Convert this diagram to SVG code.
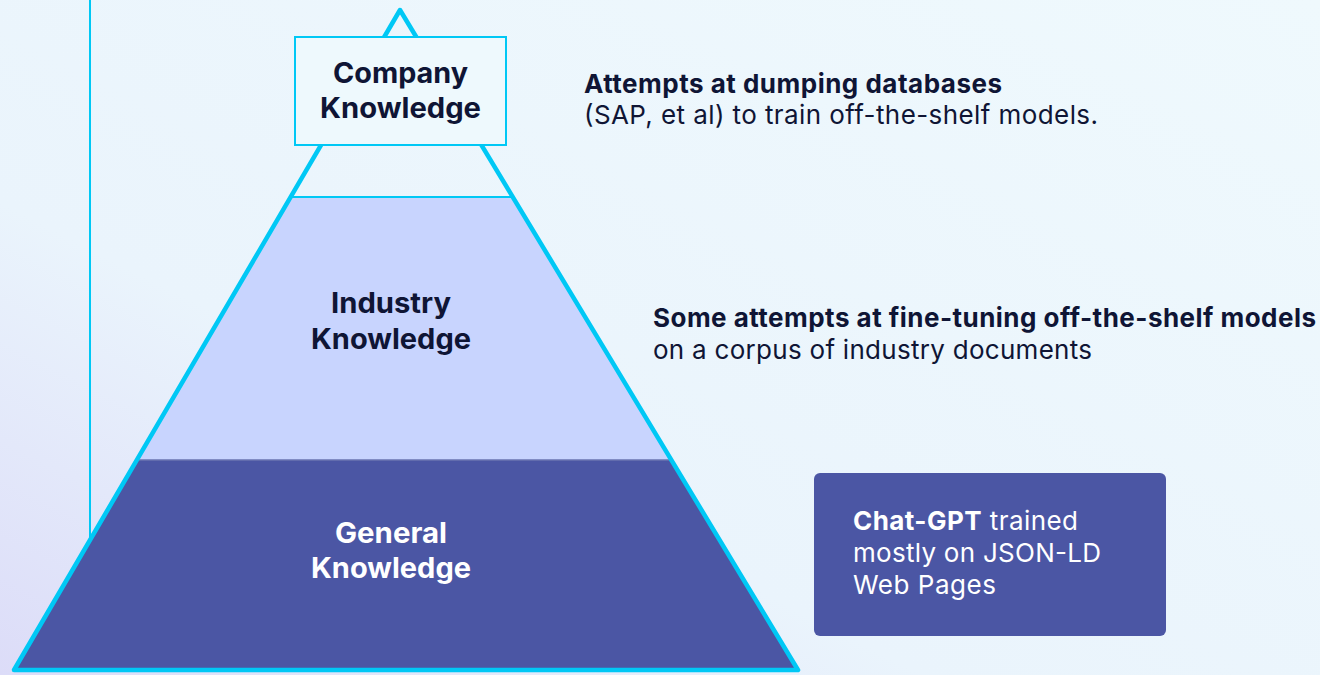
<svg xmlns="http://www.w3.org/2000/svg" width="1320" height="675" viewBox="0 0 1320 675">
<defs>
<linearGradient id="bg" x1="0" y1="1" x2="1" y2="0">
<stop offset="0" stop-color="#dcdcf8"/>
<stop offset="0.35" stop-color="#eaf4fc"/>
<stop offset="1" stop-color="#eff9fd"/>
</linearGradient>
<style>
.edge{fill:none;stroke:#00c8f5;stroke-width:4.5;stroke-linejoin:round}
.lbl{font-family:Inter,"Noto Sans",sans-serif;font-weight:700;font-size:28px}
.dark{fill:#0f1535}
.note{font-family:Inter,"Noto Sans",sans-serif;font-size:26px;fill:#0f1535}
.w{fill:#ffffff}
.b{font-weight:700}
</style>
</defs>
<rect width="1320" height="675" fill="url(#bg)"/>
<g id="connectors">
<line x1="90" y1="0" x2="90" y2="538" stroke="#00c8f5" stroke-width="2"/>
</g>
<g id="general-knowledge">
<polygon points="137,460 671,460 798,670 14,670" fill="#4b56a4"/>
<text class="lbl w" x="335" y="543" textLength="112" lengthAdjust="spacingAndGlyphs">General</text>
<text class="lbl w" x="311" y="578" textLength="160" lengthAdjust="spacingAndGlyphs">Knowledge</text>
</g>
<g id="industry-knowledge">
<polygon points="291,197 513,197 671,460 137,460" fill="#c8d4fe"/>
<line x1="137" y1="460" x2="671" y2="460" stroke="#6a74b0" stroke-width="1.5"/>
<line x1="291" y1="197" x2="513" y2="197" stroke="#00c8f5" stroke-width="2"/>
<text class="lbl dark" x="331" y="313" textLength="120" lengthAdjust="spacingAndGlyphs">Industry</text>
<text class="lbl dark" x="311" y="349" textLength="160" lengthAdjust="spacingAndGlyphs">Knowledge</text>
</g>
<polygon class="edge" points="400,10 798,670 14,670"/>
<g id="company-knowledge">
<rect x="295" y="37" width="211" height="108" fill="#eef9fd" stroke="#00c8f5" stroke-width="2"/>
<text class="lbl dark" x="333" y="83" textLength="135" lengthAdjust="spacingAndGlyphs">Company</text>
<text class="lbl dark" x="320" y="118" textLength="161" lengthAdjust="spacingAndGlyphs">Knowledge</text>
</g>
<g id="note-company">
<text class="note b" x="584" y="93" textLength="418">Attempts at dumping databases</text>
<text class="note" x="584" y="124" textLength="514">(SAP, et al) to train off-the-shelf models.</text>
</g>
<g id="note-industry">
<text class="note b" x="653" y="327" textLength="663">Some attempts at fine-tuning off-the-shelf models</text>
<text class="note" x="653" y="359" textLength="439">on a corpus of industry documents</text>
</g>
<g id="note-general">
<rect x="814" y="473" width="352" height="163" rx="6" fill="#4b56a4"/>
<text class="note w" x="853" y="530" textLength="225"><tspan class="b">Chat-GPT</tspan> trained</text>
<text class="note w" x="853" y="562" textLength="248">mostly on JSON-LD</text>
<text class="note w" x="853" y="594" textLength="143">Web Pages</text>
</g>
</svg>
